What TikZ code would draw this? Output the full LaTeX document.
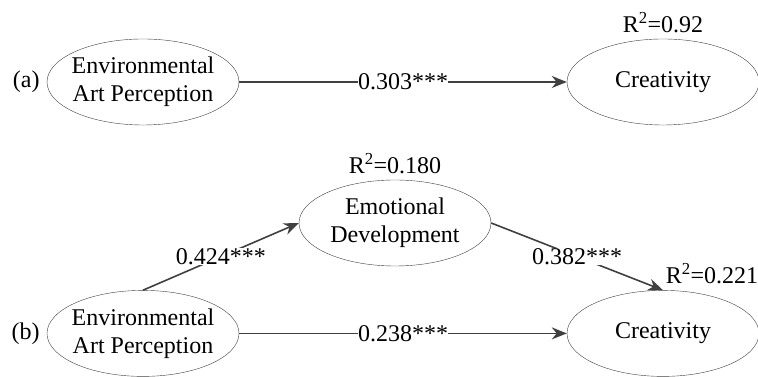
\documentclass[tikz,border=0pt]{standalone}
\usepackage{fontspec}
\setmainfont{Liberation Serif}
\usetikzlibrary{arrows.meta,positioning,shapes.geometric}

\begin{document}
\begin{tikzpicture}[x=1pt, y=1pt, >={Stealth[length=15pt,width=12pt]}, node distance=520pt,
        font=\fontsize{24}{28}\selectfont]

        \tikzstyle{latent}=[ellipse, draw=black!75, thin, fill=white, align=center,
                            inner xsep=-4pt, inner ysep=0pt, minimum width=192pt, minimum height=86pt]
        \tikzstyle{path}=[->, draw=black!75, line width=1.6pt]
        \tikzstyle{coef}=[fill=white, inner sep=0pt]
        \tikzstyle{tag}=[inner sep=0pt]

        \useasboundingbox (0,0) rectangle (758,377);

        % (a) direct effect
        \node[latent]  (eapA)  at (143,295)        {Environmental\\Art Perception};
        \node[latent]  (creaA) [right of = eapA] {Creativity};
        \node[tag]     (labA)  [left=7pt of eapA]  {(a)};
        \node[tag]     (rsqA)  [above=6pt of creaA] {R\textsuperscript{2}=0.92};

        % (b) mediation
        \node[latent]  (eapB)  [below=165pt of eapA]  {Environmental\\Art Perception};
        \node[latent]  (creaB) [right of = eapB]      {Creativity};
        \node[latent]  (emoB)  at (395,154)           {Emotional\\Development};
        \node[tag]     (labB)  [left=7pt of eapB]     {(b)};
        \node[tag]     (rsqE)  [above=6pt of emoB]    {R\textsuperscript{2}=0.180};
        \node[tag]     (rsqB)  at ([xshift=49pt,yshift=17pt]creaB.north) {R\textsuperscript{2}=0.221};

        \path
        (eapA) edge[path] node[coef] {0.303***} (creaA)

        (eapB.north) edge[path] node[coef] {0.424***} (emoB.west)
        (emoB.east)  edge[path] node[coef] {0.382***} (creaB.north)
        (eapB) edge[path] node[coef] {0.238***} (creaB)
        ;
\end{tikzpicture}
\end{document}
